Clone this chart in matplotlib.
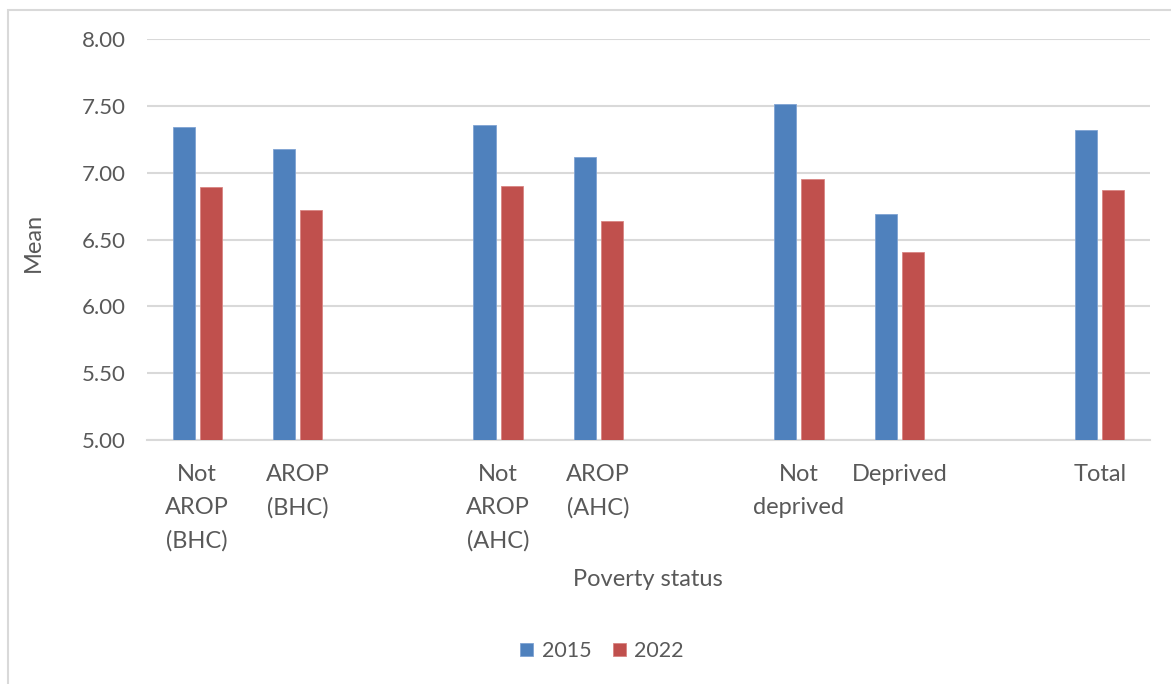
import matplotlib.pyplot as plt
import matplotlib.patches as mpatches
import numpy as np

# mean scores by poverty status, blank slots separate the groups
categories = ["Not\nAROP\n(BHC)", "AROP\n(BHC)", "",
              "Not\nAROP\n(AHC)", "AROP\n(AHC)", "",
              "Not\ndeprived", "Deprived", "",
              "Total"]
mean_2015 = [7.34, 7.18, np.nan, 7.36, 7.12, np.nan, 7.51, 6.69, np.nan, 7.32]
mean_2022 = [6.89, 6.72, np.nan, 6.90, 6.64, np.nan, 6.95, 6.41, np.nan, 6.87]
series_names = ["2015", "2022"]

BLUE = "#4F81BD"
RED = "#C0504D"
GREY = "#595959"
GRID = "#D9D9D9"

plt.rcParams['font.family'] = ['Lato', 'DejaVu Sans']

fig = plt.figure(figsize=(11.71, 6.84), dpi=100)
ax = fig.add_axes([147 / 1171, 244 / 684, 1003 / 1171, 401 / 684])

# chart frame
fig.patches.append(mpatches.Rectangle((8 / 1171, -0.1), 1.2, (684 - 10) / 684 + 0.1,
                                      transform=fig.transFigure, fill=False,
                                      edgecolor=GRID, linewidth=1.5))

x = np.arange(len(categories))
w = 0.22
off = 0.135
ax.bar(x - off, mean_2015, w, color=BLUE, edgecolor="#7fa3d3", linewidth=0.6,
       label=series_names[0], zorder=3)
ax.bar(x + off, mean_2022, w, color=RED, edgecolor="#d98583", linewidth=0.6,
       label=series_names[1], zorder=3)

ax.set_ylim(5.0, 8.0)
ax.set_xlim(-0.5, len(categories) - 0.5)
ax.set_yticks(np.arange(5.0, 8.01, 0.5))
ax.set_yticklabels(["{:.2f}".format(v) for v in np.arange(5.0, 8.01, 0.5)])
ax.yaxis.grid(True, color=GRID, linewidth=1.5, zorder=0)
ax.set_axisbelow(True)

ax.set_xticks(x)
ax.set_xticklabels(categories, linespacing=1.68, va="top")
ax.tick_params(axis="both", length=0, labelcolor=GREY)
ax.tick_params(axis="x", pad=17.5, labelsize=17)
ax.tick_params(axis="y", pad=15, labelsize=16)

for side in ["top", "right", "left"]:
    ax.spines[side].set_visible(False)
ax.spines["bottom"].set_color(GRID)
ax.spines["bottom"].set_linewidth(1.5)

fig.text(33 / 1171, 1 - 242 / 684, "Mean", fontsize=17, color=GREY,
         rotation=90, ha="center", va="center")
fig.text(648 / 1171, 1 - 580 / 684, "Poverty status", fontsize=17, color=GREY,
         ha="center", va="center")

leg = fig.legend(loc="center", bbox_to_anchor=(602 / 1171, 1 - 651 / 684), ncol=2,
                 frameon=False, fontsize=15.5, handlelength=0.6, handleheight=0.6,
                 handletextpad=0.4, columnspacing=1.0)
for t in leg.get_texts():
    t.set_color(GREY)

fig.savefig("out.png", dpi=100)
